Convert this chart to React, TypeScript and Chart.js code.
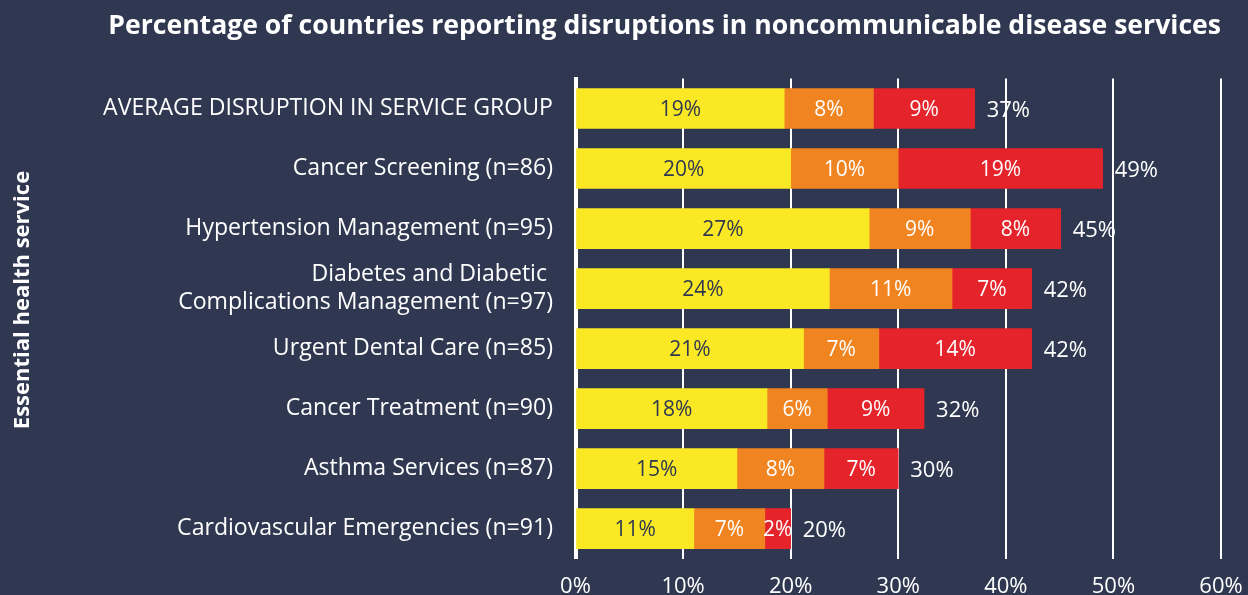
import React, { useEffect, useRef } from 'react';
import { Chart, registerables } from 'chart.js';

Chart.register(...registerables);

const categories: (string | string[])[] = [
  'AVERAGE DISRUPTION IN SERVICE GROUP',
  'Cancer Screening (n=86)',
  'Hypertension Management (n=95)',
  ['Diabetes and Diabetic ', 'Complications Management (n=97)'],
  'Urgent Dental Care (n=85)',
  'Cancer Treatment (n=90)',
  'Asthma Services (n=87)',
  'Cardiovascular Emergencies (n=91)',
];

// three disruption bands (yellow, orange, red), % of countries
const bandLow = [19.4, 20.0, 27.3, 23.6, 21.2, 17.8, 15.0, 11.0];
const bandMid = [8.3, 10.0, 9.4, 11.4, 7.0, 5.6, 8.1, 6.6];
const bandHigh = [9.4, 19.0, 8.4, 7.4, 14.2, 9.0, 6.9, 2.4];

const xTickValues = [0, 10, 20, 30, 40, 50, 60];

const TITLE = 'Percentage of countries reporting disruptions in noncommunicable disease services';
const Y_TITLE = 'Essential health service';

const BG = '#2f3850';
const YELLOW = '#f9e823';
const ORANGE = '#f08421';
const RED = '#e4232a';
const FONT = '"Open Sans", sans-serif';

const bgPlugin = {
  id: 'bg',
  beforeDraw(chart: any) {
    const { ctx, width, height } = chart;
    ctx.save();
    ctx.fillStyle = BG;
    ctx.fillRect(0, 0, width, height);
    ctx.restore();
  },
};

const yTitlePlugin = {
  id: 'yTitle',
  afterDraw(chart: any) {
    const { ctx } = chart;
    ctx.save();
    ctx.translate(23, 300);
    ctx.rotate(-Math.PI / 2);
    ctx.fillStyle = '#ffffff';
    ctx.font = `700 22px ${FONT}`;
    ctx.textAlign = 'center';
    ctx.textBaseline = 'middle';
    ctx.fillText(Y_TITLE, 0, 0);
    ctx.restore();
  },
};

const labelPlugin = {
  id: 'segLabels',
  afterDatasetsDraw(chart: any) {
    const { ctx } = chart;
    ctx.save();
    ctx.font = `500 21px ${FONT}`;
    ctx.textBaseline = 'middle';
    ctx.textAlign = 'center';
    chart.data.datasets.forEach((ds: any, di: number) => {
      const meta = chart.getDatasetMeta(di);
      meta.data.forEach((el: any, i: number) => {
        const v = ds.data[i] as number;
        const p = el.getProps(['x', 'y', 'base'], true);
        ctx.fillStyle = di === 0 ? BG : '#ffffff';
        ctx.fillText(Math.round(v) + '%', (p.x + p.base) / 2, p.y + 1);
      });
    });
    const lastMeta = chart.getDatasetMeta(chart.data.datasets.length - 1);
    ctx.textAlign = 'left';
    ctx.fillStyle = '#ffffff';
    ctx.font = `500 22px ${FONT}`;
    lastMeta.data.forEach((el: any, i: number) => {
      const total = bandLow[i] + bandMid[i] + bandHigh[i];
      const p = el.getProps(['x', 'y'], true);
      ctx.fillText(Math.round(total) + '%', p.x + 12, p.y + 2);
    });
    ctx.restore();
  },
};

export default function App() {
  const ref = useRef<HTMLCanvasElement | null>(null);

  useEffect(() => {
    if (!ref.current) return;
    const chart = new Chart(ref.current, {
      type: 'bar',
      data: {
        labels: categories as any,
        datasets: [
          { label: 'Band 1', data: bandLow, backgroundColor: YELLOW, borderWidth: 0, barThickness: 40 },
          { label: 'Band 2', data: bandMid, backgroundColor: ORANGE, borderWidth: 0, barThickness: 40 },
          { label: 'Band 3', data: bandHigh, backgroundColor: RED, borderWidth: 0, barThickness: 40 },
        ],
      },
      options: {
        indexAxis: 'y',
        animation: false,
        responsive: true,
        maintainAspectRatio: false,
        layout: { padding: { left: 0, right: 27, top: 0, bottom: 0 } },
        plugins: {
          legend: { display: false },
          tooltip: { enabled: false },
          title: {
            display: true,
            text: TITLE,
            align: 'end',
            color: '#ffffff',
            font: { family: FONT, size: 26.6, weight: 'bold', lineHeight: 1.2 },
            padding: { top: 10.5, bottom: 36.1 },
          },
        },
        scales: {
          x: {
            stacked: true,
            min: 0,
            max: 60,
            afterBuildTicks: (scale: any) => {
              scale.ticks = xTickValues.map((v) => ({ value: v }));
            },
            afterFit: (scale: any) => {
              scale.height = 35;
              scale.paddingLeft = 0;
              scale.paddingRight = 0;
            },
            grid: { color: '#ffffff', lineWidth: 2, drawTicks: false },
            border: { display: false },
            ticks: {
              color: '#ffffff',
              padding: 15,
              font: { family: FONT, size: 22, weight: '500' as any },
              callback: (v: any) => v + '%',
            },
          },
          y: {
            stacked: true,
            z: 1,
            afterFit: (scale: any) => {
              scale.width = 575.5;
            },
            grid: { display: false, drawTicks: false },
            border: { display: true, color: '#ffffff', width: 4 },
            ticks: {
              color: '#ffffff',
              padding: 22.5,
              font: { family: FONT, size: 23.1, weight: '500' as any, lineHeight: 1.2 },
            },
          },
        },
      },
      plugins: [bgPlugin, labelPlugin, yTitlePlugin],
    });
    return () => chart.destroy();
  }, []);

  return (
    <div style={{ position: 'fixed', left: 0, top: 0, width: 1248, height: 595, background: BG }}>
      <canvas ref={ref} />
    </div>
  );
}
